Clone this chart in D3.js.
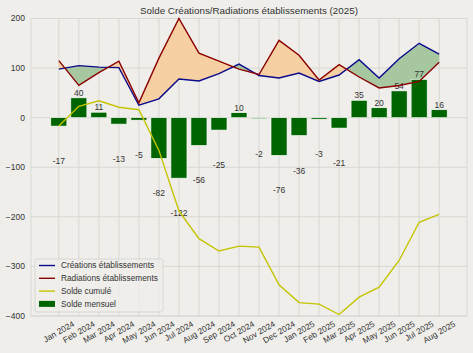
<!DOCTYPE html>
<html>
<head>
<meta charset="utf-8">
<script src="https://cdn.jsdelivr.net/npm/d3@7"></script>
<style>
  html, body { margin: 0; padding: 0; background: #efeeea; }
  text { font-family: "Liberation Sans", Arial, sans-serif; fill: #333; }
</style>
</head>
<body>
<div id="chart"></div>
<script>
const months = ["Jan 2024", "Feb 2024", "Mar 2024", "Apr 2024", "May 2024", "Jun 2024",
                "Jul 2024", "Aug 2024", "Sep 2024", "Oct 2024", "Nov 2024", "Dec 2024",
                "Jan 2025", "Feb 2025", "Mar 2025", "Apr 2025", "May 2025", "Jun 2025",
                "Jul 2025", "Aug 2025"];
const creations  = [98, 105, 102, 101, 25, 38, 78, 74, 89, 108, 85, 80, 90, 73, 86, 117, 80, 119, 150, 128];
const radiations = [115, 65, 91, 114, 30, 120, 200, 130, 114, 98, 87, 156, 126, 76, 107, 82, 60, 65, 73, 112];
const soldeMensuel = [-17, 40, 11, -13, -5, -82, -122, -56, -25, 10, -2, -76, -36, -3, -21, 35, 20, 54, 77, 16];
const soldeCumule  = [-17, 23, 34, 21, 16, -66, -188, -244, -269, -259, -261, -337, -373, -376, -397, -362, -342, -288, -211, -195];
const yTicks = [200, 100, 0, -100, -200, -300, -400];

const W = 473, H = 353;
const margin = {top: 18.5, right: 6, bottom: 37, left: 31};
const width = W - margin.left - margin.right,
      height = H - margin.top - margin.bottom;

const svg = d3.select("#chart").append("svg")
  .attr("width", W).attr("height", H)
  .style("background", "#efeeea");

const g = svg.append("g").attr("transform", `translate(${margin.left},${margin.top})`);

// x : index des mois, marges comme matplotlib
const x = d3.scaleLinear().domain([-1.39, months.length - 1 + 1.39]).range([0, width]);
const y = d3.scaleLinear().domain([-400, 200]).range([height, 0]);
const bw = x(0.8) - x(0);

// grille
g.append("g").selectAll("line").data(yTicks).join("line")
  .attr("x1", 0).attr("x2", width)
  .attr("y1", d => y(d)).attr("y2", d => y(d))
  .attr("stroke", "#d8d7d3").attr("stroke-width", 1);
g.append("g").selectAll("line").data(months).join("line")
  .attr("x1", (d, i) => x(i)).attr("x2", (d, i) => x(i))
  .attr("y1", 0).attr("y2", height)
  .attr("stroke", "#d8d7d3").attr("stroke-width", 1);
g.append("rect").attr("width", width).attr("height", height)
  .attr("fill", "none").attr("stroke", "#d8d7d3");

// zones entre créations et radiations (avec interpolation aux croisements)
function segments(positive) {
  const polys = [];
  let cur = null;
  for (let i = 0; i < months.length - 1; i++) {
    const d0 = creations[i] - radiations[i], d1 = creations[i + 1] - radiations[i + 1];
    const pts = [];
    const ok0 = positive ? d0 >= 0 : d0 <= 0;
    const ok1 = positive ? d1 >= 0 : d1 <= 0;
    if (ok0 && ok1) {
      pts.push([i, creations[i], radiations[i]], [i + 1, creations[i + 1], radiations[i + 1]]);
    } else if (ok0 || ok1) {
      const t = d0 / (d0 - d1);
      const xc = i + t, yc = creations[i] + t * (creations[i + 1] - creations[i]);
      if (ok0) pts.push([i, creations[i], radiations[i]], [xc, yc, yc]);
      else pts.push([xc, yc, yc], [i + 1, creations[i + 1], radiations[i + 1]]);
    }
    if (pts.length) {
      if (!cur) { cur = []; polys.push(cur); }
      pts.forEach(p => { if (!cur.length || cur[cur.length - 1][0] !== p[0]) cur.push(p); });
      if (!(ok1)) cur = null;
    } else cur = null;
  }
  return polys;
}
const area = d3.area().x(d => x(d[0])).y0(d => y(d[2])).y1(d => y(d[1]));
g.append("g").selectAll("path").data(segments(true)).join("path")
  .attr("d", area).attr("fill", "#a6c7a0");
g.append("g").selectAll("path").data(segments(false)).join("path")
  .attr("d", area).attr("fill", "#f6cfa2");

// barres solde mensuel
g.append("g").selectAll("rect").data(soldeMensuel).join("rect")
  .attr("x", (d, i) => x(i) - bw / 2)
  .attr("width", bw)
  .attr("y", d => y(Math.max(0, d)))
  .attr("height", d => Math.abs(y(d) - y(0)))
  .attr("fill", "#006400")
  .attr("stroke", "#ffffff").attr("stroke-width", 0.6);

// étiquettes des barres
g.append("g").selectAll("text").data(soldeMensuel).join("text")
  .attr("x", (d, i) => x(i))
  .attr("y", d => d >= 0 ? y(d) - 2 : y(d) + 38)
  .attr("text-anchor", "middle")
  .style("font-size", "8.5px")
  .text(d => d);

// lignes
const line = d3.line().x((d, i) => x(i)).y(d => y(d));
g.append("path").datum(soldeCumule).attr("d", line)
  .attr("fill", "none").attr("stroke", "#c4c400").attr("stroke-width", 1.4);
g.append("path").datum(creations).attr("d", line)
  .attr("fill", "none").attr("stroke", "#0a0a8c").attr("stroke-width", 1.4);
g.append("path").datum(radiations).attr("d", line)
  .attr("fill", "none").attr("stroke", "#8b0000").attr("stroke-width", 1.4);

// axe y
g.append("g").selectAll("text").data(yTicks).join("text")
  .attr("x", -6).attr("y", d => y(d)).attr("dy", "0.35em")
  .attr("text-anchor", "end").style("font-size", "8.5px")
  .text(d => d3.format("")(d).replace("-", "\u2212"));

// axe x (rotation 30°, centré)
const xl = g.append("g").selectAll("text").data(months).join("text")
  .attr("text-anchor", "middle").style("font-size", "8.3px")
  .text(d => d);
xl.each(function(d, i) {
  const w = this.getComputedTextLength();
  const h = 8.3;
  const cy = height + 3.5 + (w * 0.5 + h * 0.866) / 2;
  d3.select(this)
    .attr("dy", "0.35em")
    .attr("transform", `translate(${x(i)},${cy}) rotate(-30)`);
});

// titre
svg.append("text")
  .attr("x", margin.left + width / 2).attr("y", 13.5)
  .attr("text-anchor", "middle").style("font-size", "9.8px")
  .text("Solde Créations/Radiations établissements (2025)");

// légende
const leg = svg.append("g").attr("transform", "translate(35,259)");
leg.append("rect").attr("width", 128).attr("height", 53).attr("rx", 2)
  .attr("fill", "#efeeea").attr("fill-opacity", 0.8).attr("stroke", "#d8d7d3");
const legItems = [
  {label: "Créations établissements", color: "#0a0a8c", type: "line"},
  {label: "Radiations établissements", color: "#8b0000", type: "line"},
  {label: "Solde cumulé", color: "#c4c400", type: "line"},
  {label: "Solde mensuel", color: "#006400", type: "patch"}
];
legItems.forEach((d, i) => {
  const yy = 6.5 + i * 12.8;
  if (d.type === "line") {
    leg.append("line").attr("x1", 4).attr("x2", 20).attr("y1", yy).attr("y2", yy)
      .attr("stroke", d.color).attr("stroke-width", 1.4);
  } else {
    leg.append("rect").attr("x", 4).attr("y", yy - 3).attr("width", 16).attr("height", 6)
      .attr("fill", d.color);
  }
  leg.append("text").attr("x", 26).attr("y", yy).attr("dy", "0.35em")
    .style("font-size", "8.3px").text(d.label);
});
</script>
</body>
</html>
